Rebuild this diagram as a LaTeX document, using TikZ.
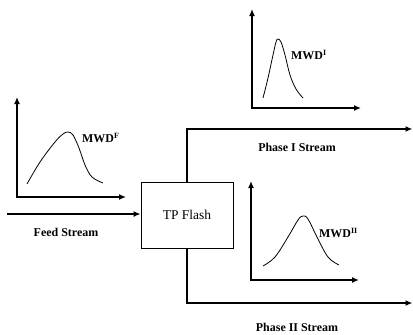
\documentclass[tikz,border=0pt]{standalone}
\usepackage{fontspec}
\setmainfont{Liberation Serif}
\usetikzlibrary{arrows.meta}
\begin{document}
\begin{tikzpicture}[x=1bp,y=-1bp,
  axis/.style={line width=1.4bp,{Latex[length=7bp,width=6bp]}-{Latex[length=7bp,width=6bp]}},
  stream/.style={line width=1.4bp,-{Latex[length=7bp,width=6bp]}},
  curve/.style={line width=0.8bp},
  lbl/.style={font=\fontsize{12}{14}\selectfont\bfseries,inner sep=0pt},
  mwd/.style={font=\fontsize{12}{14}\selectfont\bfseries,inner sep=0pt,anchor=west},
  flashbox/.style={draw,line width=0.8bp,minimum width=92bp,minimum height=66bp,font=\fontsize{13.5}{15}\selectfont,inner sep=0pt}]
\useasboundingbox (0,0) rectangle (413,335);
% flash unit
\node[flashbox] (flash) at (187,215) {TP Flash};
% feed stream
\coordinate (feedstart) at (7,214);
\draw[stream] (feedstart) -- (feedstart -| flash.west);
\node[lbl] (feedlbl) at (66,232) {Feed Stream};
% outlet streams
\coordinate (p1end) at (412.5,129);
\coordinate (p2end) at (412.5,303);
\draw[stream] (flash.north) |- (p1end);
\draw[stream] (flash.south) |- (p2end);
\node[lbl] (p1lbl) at (297,147) {Phase I Stream};
\node[lbl] (p2lbl) at (297,327.5) {Phase II Stream};
% feed MWD plot
\coordinate (fy) at (17,97);
\coordinate (fx) at (126,197);
\draw[axis] (fy) |- (fx);
\draw[curve] plot[smooth,tension=0.6] coordinates {(27,184) (40,162) (55,142) (63,134) (68,132) (73,135) (79,148) (85,165) (92,177) (103,183)};
\node[mwd] (mwdf) at (82,138) {MWD\textsuperscript{F}};
% phase I MWD plot
\coordinate (ay) at (252,9);
\coordinate (ax) at (361,108);
\draw[axis] (ay) |- (ax);
\draw[curve] plot[smooth,tension=0.6] coordinates {(263,98) (268,78) (273,55) (276,42) (278,39) (281,42) (285,55) (290,75) (296,89) (303,98)};
\node[mwd] (mwdi) at (291,55) {MWD\textsuperscript{I}};
% phase II MWD plot
\coordinate (by) at (251,181);
\coordinate (bx) at (359,280);
\draw[axis] (by) |- (bx);
\draw[curve] plot[smooth,tension=0.6] coordinates {(263,266) (275,257) (288,237) (298,220) (303,216) (308,219) (317,237) (328,257) (339,265)};
\node[mwd] (mwdii) at (319,233) {MWD\textsuperscript{II}};
\end{tikzpicture}
\end{document}
